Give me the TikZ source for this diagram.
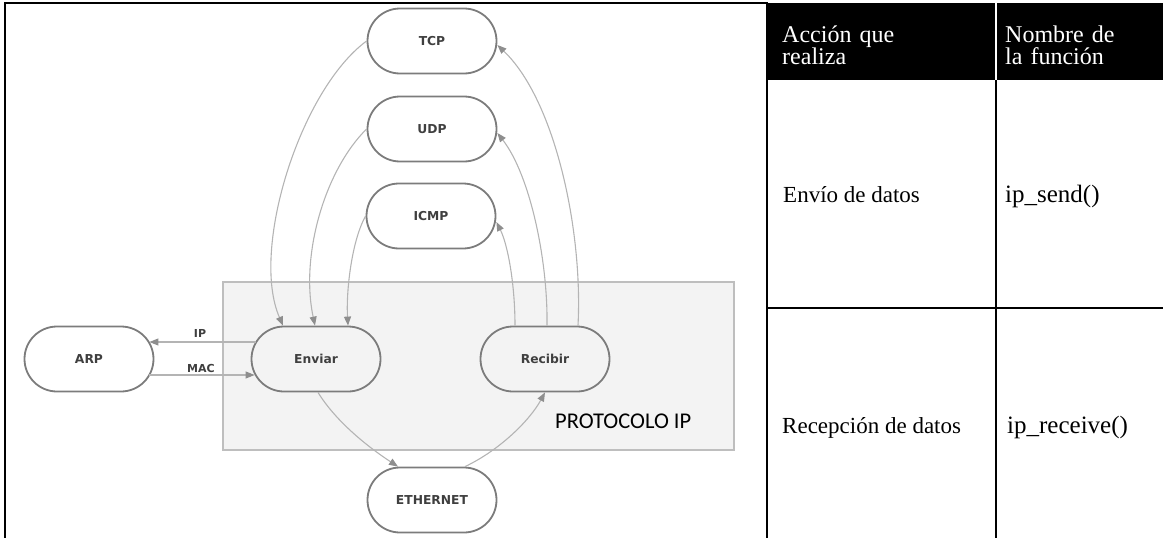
\documentclass[tikz,border=0pt]{standalone}
\usepackage{fontspec}
\setmainfont{Liberation Serif}
\newfontfamily\nodefont{DejaVu Sans}
\newfontfamily\boxfont{Carlito}
\usetikzlibrary{shapes.misc,arrows.meta,calc}

\definecolor{nodeline}{HTML}{7C7C7C}
\definecolor{nodetext}{HTML}{3F3F3F}
\definecolor{flowline}{HTML}{B4B4B4}
\definecolor{tipgray}{HTML}{8E8E8E}
\definecolor{boxfill}{HTML}{F3F3F3}
\definecolor{boxline}{HTML}{BEBEBE}

\begin{document}
\begin{tikzpicture}[x=1pt,y=-1pt,
  proto/.style={rounded rectangle, draw=nodeline, line width=1.8pt,
    minimum width=129pt, minimum height=65pt, inner sep=0pt,
    text=nodetext, font=\nodefont\bfseries\fontsize{12.3}{14}\selectfont},
  solid fill/.style={fill=white},
  flow/.style={draw=flowline, line width=1.1pt,
    -{Triangle[length=9pt,width=7pt,color=tipgray]}},
  lbl/.style={inner sep=0pt, text=nodetext,
    font=\nodefont\bfseries\fontsize{11}{12}\selectfont},
  rule/.style={line width=2pt, black},
  hdr/.style={inner sep=0pt, text=white, text width=150pt, align=left,
    font=\fontsize{24}{22.5}\selectfont},
  cell/.style={inner sep=0pt, font=\fontsize{23}{26}\selectfont},
  func/.style={inner sep=0pt, font=\fontsize{25}{28}\selectfont}]

\useasboundingbox (0,0) rectangle (1163,538);

% IP module frame
\draw[fill=boxfill, draw=boxline, line width=2pt] (223,282) rectangle (734,450);
\node[inner sep=0pt, anchor=base west, font=\boxfont\fontsize{22.5}{26}\selectfont]
  (ipname) at (555,428) {PROTOCOLO IP};

% protocol nodes
\node[proto, solid fill] (tcp)  at (432,41)  {TCP};
\node[proto, solid fill] (udp)  at (432,129) {UDP};
\node[proto, solid fill] (icmp) at (431,216) {ICMP};
\node[proto, solid fill] (arp)  at (89,359)  {ARP};
\node[proto] (env) at (316,359) {Enviar};
\node[proto] (rec) at (545,359) {Recibir};
\node[proto, solid fill] (eth)  at (432,500) {ETHERNET};

% upper layers hand data to Enviar
\draw[flow] (tcp.west) .. controls (300,90) and (250,250) .. ([xshift=-33pt]env.north);
\draw[flow] (udp.west) .. controls (325,170) and (300,255) .. ([xshift=-1pt]env.north);
\draw[flow] (icmp.west) .. controls (352,240) and (346,290) .. ([xshift=32pt]env.north);

% Recibir delivers data to upper layers
\draw[flow] ([xshift=-30pt]rec.north) .. controls (515,285) and (508,245) .. ([yshift=-6pt]icmp.east);
\draw[flow] ([xshift=2pt]rec.north) .. controls (548,260) and (530,175) .. ([yshift=-4pt]udp.east);
\draw[flow] ([xshift=33pt]rec.north) .. controls (583,230) and (555,100) .. ([yshift=-4pt]tcp.east);

% address resolution
\draw[flow] ($(env.west)+(5,-17)$) -- ($(arp.east)+(-5,-17)$);
\draw[flow] ($(arp.east)+(-5,16)$) -- ($(env.west)+(4,16)$);
\node[lbl] (iplbl)  at (200,333) {IP};
\node[lbl] (maclbl) at (201,368) {MAC};

% link layer
\draw[flow] ([xshift=2pt]env.south) .. controls (335,420) and (365,445) .. ([xshift=-34pt]eth.north);
\draw[flow] ([xshift=33pt]eth.north) .. controls (500,450) and (530,420) .. (rec.south);

% table
\fill[black] (767,3) rectangle (1163,80);
\draw[white, line width=2pt] (996,3) -- (996,80);
\draw[rule] (996,80) -- (996,538);
\draw[rule] (767,308) -- (1163,308);
\draw[rule] (4,3) -- (768,3);
\draw[rule] (5,3) -- (5,538);
\draw[rule] (767,3) -- (767,538);

\node[hdr, anchor=base west] (hacc) at (782,42) {Acción que\\realiza};
\node[hdr, anchor=base west] (hfun) at (1005,42) {Nombre de\\la función};
\node[cell, anchor=base west] (csend) at (783,202) {Envío de datos};
\node[func, anchor=base west] (fsend) at (1005,202) {ip\_send()};
\node[cell, anchor=base west] (crecv) at (782,433) {Recepción de datos};
\node[func, anchor=base west] (frecv) at (1007,433) {ip\_receive()};
\end{tikzpicture}
\end{document}
